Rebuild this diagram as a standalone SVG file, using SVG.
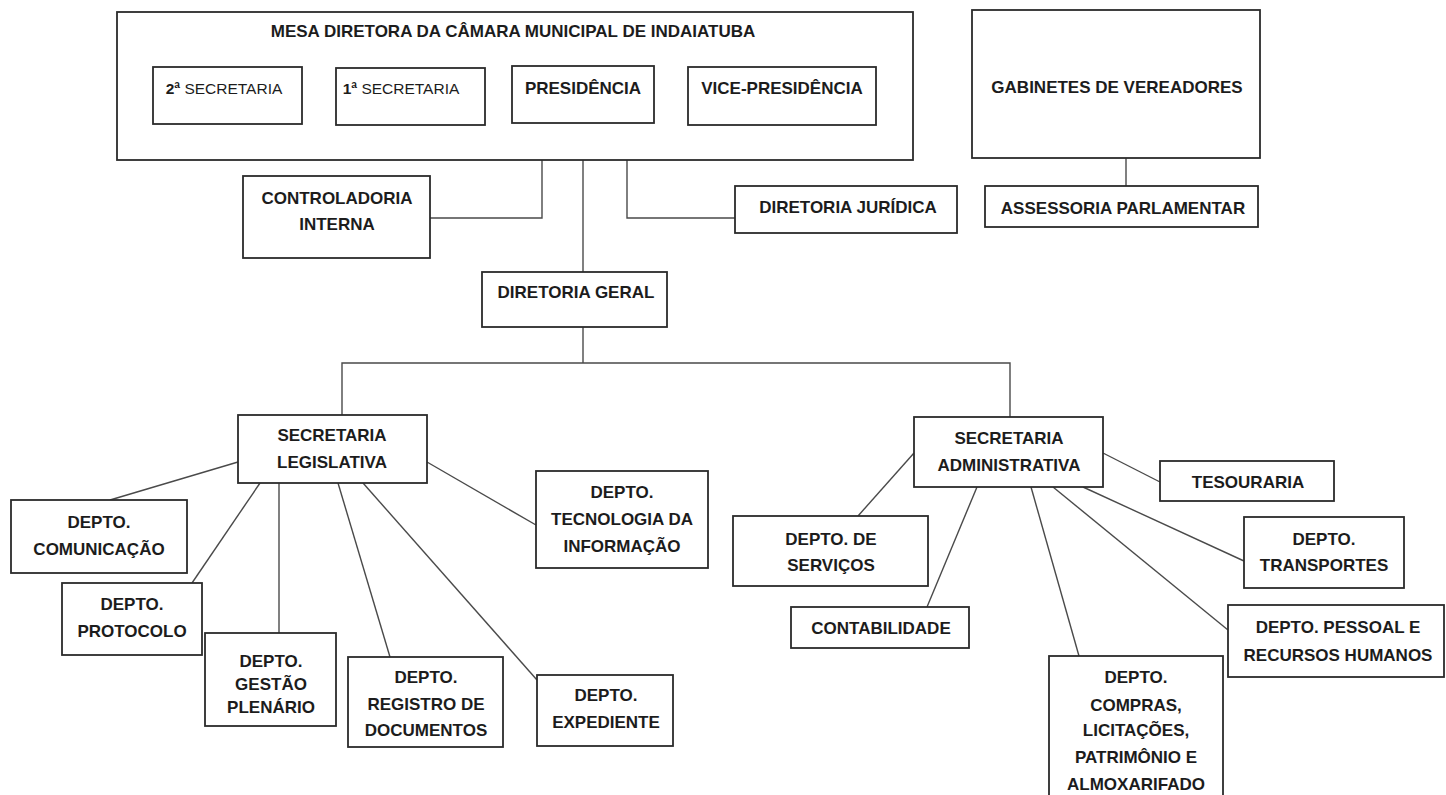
<svg xmlns="http://www.w3.org/2000/svg" width="1446" height="795" viewBox="0 0 1446 795">
<style>
.box{fill:#fff;stroke:#2b2b2b;stroke-width:1.8}
.t{font-family:"Liberation Sans",Arial,sans-serif;font-weight:bold;font-size:17px;fill:#1c1c1c;text-anchor:middle}
.s{font-family:"Liberation Sans",Arial,sans-serif;font-weight:normal;font-size:15.5px;fill:#1c1c1c;text-anchor:middle}
.c{fill:none;stroke:#4a4a4a;stroke-width:1.4}
</style>
<rect x="0" y="0" width="1446" height="795" fill="#fff"/>
<g id="connectors">
<polyline class="c" points="542,123 542,218 430,218"/>
<polyline class="c" points="583,123 583,272"/>
<polyline class="c" points="627,123 627,218 735,218"/>
<polyline class="c" points="1126,158 1126,186"/>
<polyline class="c" points="583,327 583,363"/>
<polyline class="c" points="342,415 342,363 1010,363 1010,417"/>
<line class="c" x1="238" y1="462" x2="110" y2="500"/>
<line class="c" x1="260" y1="483" x2="192" y2="583"/>
<line class="c" x1="279" y1="483" x2="279" y2="633"/>
<line class="c" x1="338" y1="483" x2="390" y2="657"/>
<line class="c" x1="363" y1="483" x2="537" y2="680"/>
<line class="c" x1="427" y1="462" x2="536" y2="525"/>
<line class="c" x1="914" y1="453" x2="858" y2="516"/>
<line class="c" x1="977" y1="487" x2="927" y2="607"/>
<line class="c" x1="1031" y1="487" x2="1079" y2="656"/>
<line class="c" x1="1103" y1="453" x2="1160" y2="482"/>
<line class="c" x1="1083" y1="487" x2="1244" y2="561"/>
<line class="c" x1="1053" y1="487" x2="1228" y2="630"/>
</g>
<g id="mesa">
<rect class="box" x="117" y="12" width="796" height="148"/>
<text class="t" x="513" y="37">MESA DIRETORA DA CÂMARA MUNICIPAL DE INDAIATUBA</text>
</g>
<g id="sec2">
<rect class="box" x="153" y="67" width="149" height="57"/>
<text class="s" x="224" y="94"><tspan font-weight="bold">2ª</tspan> SECRETARIA</text>
</g>
<g id="sec1">
<rect class="box" x="336" y="68" width="149" height="57"/>
<text class="s" x="401" y="94"><tspan font-weight="bold">1ª</tspan> SECRETARIA</text>
</g>
<g id="presidencia">
<rect class="box" x="512" y="66" width="142" height="57"/>
<text class="t" x="583" y="94">PRESIDÊNCIA</text>
</g>
<g id="vice">
<rect class="box" x="688" y="67" width="188" height="58"/>
<text class="t" x="782" y="94">VICE-PRESIDÊNCIA</text>
</g>
<g id="gabinetes">
<rect class="box" x="972" y="10" width="288" height="148"/>
<text class="t" x="1117" y="93">GABINETES DE VEREADORES</text>
</g>
<g id="assessoria">
<rect class="box" x="985" y="186" width="273" height="41"/>
<text class="t" x="1123" y="214">ASSESSORIA PARLAMENTAR</text>
</g>
<g id="controladoria">
<rect class="box" x="243" y="176" width="187" height="82"/>
<text class="t" x="337" y="204">CONTROLADORIA</text>
<text class="t" x="337" y="230">INTERNA</text>
</g>
<g id="juridica">
<rect class="box" x="735" y="186" width="222" height="47"/>
<text class="t" x="848" y="213">DIRETORIA JURÍDICA</text>
</g>
<g id="geral">
<rect class="box" x="482" y="272" width="185" height="55"/>
<text class="t" x="576" y="298">DIRETORIA GERAL</text>
</g>
<g id="secleg">
<rect class="box" x="238" y="415" width="189" height="68"/>
<text class="t" x="332" y="441">SECRETARIA</text>
<text class="t" x="332" y="468">LEGISLATIVA</text>
</g>
<g id="comunicacao">
<rect class="box" x="11" y="500" width="176" height="73"/>
<text class="t" x="99" y="528">DEPTO.</text>
<text class="t" x="99" y="555">COMUNICAÇÃO</text>
</g>
<g id="protocolo">
<rect class="box" x="62" y="583" width="140" height="72"/>
<text class="t" x="132" y="610">DEPTO.</text>
<text class="t" x="132" y="637">PROTOCOLO</text>
</g>
<g id="gestao">
<rect class="box" x="205" y="633" width="131" height="93"/>
<text class="t" x="271" y="667">DEPTO.</text>
<text class="t" x="271" y="690">GESTÃO</text>
<text class="t" x="271" y="713">PLENÁRIO</text>
</g>
<g id="registro">
<rect class="box" x="348" y="657" width="155" height="90"/>
<text class="t" x="426" y="683">DEPTO.</text>
<text class="t" x="426" y="710">REGISTRO DE</text>
<text class="t" x="426" y="736">DOCUMENTOS</text>
</g>
<g id="expediente">
<rect class="box" x="537" y="675" width="136" height="71"/>
<text class="t" x="606" y="701">DEPTO.</text>
<text class="t" x="606" y="728">EXPEDIENTE</text>
</g>
<g id="ti">
<rect class="box" x="536" y="471" width="172" height="97"/>
<text class="t" x="622" y="498">DEPTO.</text>
<text class="t" x="622" y="525">TECNOLOGIA DA</text>
<text class="t" x="622" y="552">INFORMAÇÃO</text>
</g>
<g id="secadm">
<rect class="box" x="914" y="417" width="189" height="70"/>
<text class="t" x="1009" y="444">SECRETARIA</text>
<text class="t" x="1009" y="471">ADMINISTRATIVA</text>
</g>
<g id="servicos">
<rect class="box" x="733" y="516" width="195" height="70"/>
<text class="t" x="831" y="545">DEPTO. DE</text>
<text class="t" x="831" y="571">SERVIÇOS</text>
</g>
<g id="contabilidade">
<rect class="box" x="791" y="607" width="178" height="41"/>
<text class="t" x="881" y="634">CONTABILIDADE</text>
</g>
<g id="tesouraria">
<rect class="box" x="1160" y="461" width="174" height="40"/>
<text class="t" x="1248" y="488">TESOURARIA</text>
</g>
<g id="transportes">
<rect class="box" x="1244" y="517" width="160" height="71"/>
<text class="t" x="1324" y="545">DEPTO.</text>
<text class="t" x="1324" y="571">TRANSPORTES</text>
</g>
<g id="pessoal">
<rect class="box" x="1228" y="605" width="216" height="72"/>
<text class="t" x="1338" y="633">DEPTO. PESSOAL E</text>
<text class="t" x="1338" y="661">RECURSOS HUMANOS</text>
</g>
<g id="compras">
<rect class="box" x="1049" y="656" width="174" height="160"/>
<text class="t" x="1136" y="683">DEPTO.</text>
<text class="t" x="1136" y="711">COMPRAS,</text>
<text class="t" x="1136" y="736">LICITAÇÕES,</text>
<text class="t" x="1136" y="763">PATRIMÔNIO E</text>
<text class="t" x="1136" y="790">ALMOXARIFADO</text>
</g>
</svg>
